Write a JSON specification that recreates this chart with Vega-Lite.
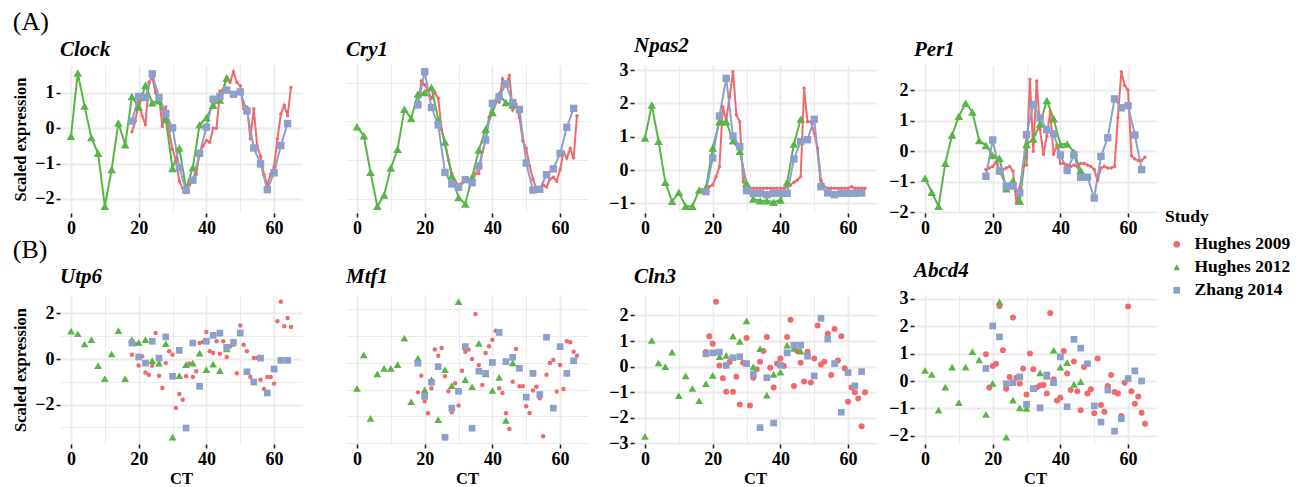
{
"$schema": "https://vega.github.io/schema/vega-lite/v6.json",
"background": "white",
"padding": {"left": 12, "top": 8, "right": 0, "bottom": 0},
"config": {
  "font": "Liberation Serif",
  "view": {"stroke": null},
  "axis": {"domain": false, "labelFont": "Liberation Serif", "labelFontSize": 18, "labelFontWeight": "bold", "labelColor": "#000", "titleFont": "Liberation Serif", "titleFontSize": 16.5, "titleFontWeight": "bold", "titleColor": "#000", "tickColor": "#222", "tickWidth": 1.6, "tickSize": 4, "labelPadding": 2, "gridColor": "#EBEBEB", "labelFlush": false, "labelOverlap": false, "titlePadding": 2},
  "title": {"font": "Liberation Serif", "fontSize": 21, "fontWeight": "bold", "fontStyle": "italic", "anchor": "start", "color": "#000", "offset": 5, "frame": "group"},
  "legend": {"titleFont": "Liberation Serif", "titleFontSize": 17.5, "titleFontWeight": "bold", "titleColor": "#000", "labelFont": "Liberation Serif", "labelFontSize": 17.5, "labelFontWeight": "bold", "labelColor": "#000", "symbolSize": 45, "rowPadding": 4, "titlePadding": 10, "labelOffset": 9, "symbolOffset": 3, "padding": 0}
},
"datasets": {"expr": [
{"gene":"Clock","study":"Hughes 2012","ct":0,"y":-0.23},{"gene":"Clock","study":"Hughes 2012","ct":2,"y":1.56},{"gene":"Clock","study":"Hughes 2012","ct":4,"y":0.63},{"gene":"Clock","study":"Hughes 2012","ct":6,"y":-0.26},{"gene":"Clock","study":"Hughes 2012","ct":8,"y":-0.71},{"gene":"Clock","study":"Hughes 2012","ct":10,"y":-2.21},{"gene":"Clock","study":"Hughes 2012","ct":12,"y":-1.17},{"gene":"Clock","study":"Hughes 2012","ct":14,"y":0.15},{"gene":"Clock","study":"Hughes 2012","ct":16,"y":-0.47},{"gene":"Clock","study":"Hughes 2012","ct":18,"y":0.9},{"gene":"Clock","study":"Hughes 2012","ct":20,"y":0.6},{"gene":"Clock","study":"Hughes 2012","ct":22,"y":1.22},{"gene":"Clock","study":"Hughes 2012","ct":24,"y":0.72},{"gene":"Clock","study":"Hughes 2012","ct":26,"y":0.78},{"gene":"Clock","study":"Hughes 2012","ct":28,"y":0.25},{"gene":"Clock","study":"Hughes 2012","ct":30,"y":-1.14},{"gene":"Clock","study":"Hughes 2012","ct":32,"y":-0.56},{"gene":"Clock","study":"Hughes 2012","ct":34,"y":-1.71},{"gene":"Clock","study":"Hughes 2012","ct":36,"y":-1.11},{"gene":"Clock","study":"Hughes 2012","ct":38,"y":0.1},{"gene":"Clock","study":"Hughes 2012","ct":40,"y":0.3},{"gene":"Clock","study":"Hughes 2012","ct":42,"y":0.65},{"gene":"Clock","study":"Hughes 2012","ct":44,"y":0.8},{"gene":"Clock","study":"Hughes 2012","ct":46,"y":1.42},
{"gene":"Clock","study":"Zhang 2014","ct":18,"y":0.2},{"gene":"Clock","study":"Zhang 2014","ct":20,"y":0.9},{"gene":"Clock","study":"Zhang 2014","ct":22,"y":0.87},{"gene":"Clock","study":"Zhang 2014","ct":24,"y":1.54},{"gene":"Clock","study":"Zhang 2014","ct":26,"y":0.87},{"gene":"Clock","study":"Zhang 2014","ct":28,"y":0.42},{"gene":"Clock","study":"Zhang 2014","ct":30,"y":0.01},{"gene":"Clock","study":"Zhang 2014","ct":32,"y":-1.11},{"gene":"Clock","study":"Zhang 2014","ct":34,"y":-1.76},{"gene":"Clock","study":"Zhang 2014","ct":36,"y":-1.47},{"gene":"Clock","study":"Zhang 2014","ct":38,"y":-0.71},{"gene":"Clock","study":"Zhang 2014","ct":40,"y":0.03},{"gene":"Clock","study":"Zhang 2014","ct":42,"y":0.82},{"gene":"Clock","study":"Zhang 2014","ct":44,"y":0.9},{"gene":"Clock","study":"Zhang 2014","ct":46,"y":1.08},{"gene":"Clock","study":"Zhang 2014","ct":48,"y":0.96},{"gene":"Clock","study":"Zhang 2014","ct":50,"y":1.03},{"gene":"Clock","study":"Zhang 2014","ct":52,"y":0.49},{"gene":"Clock","study":"Zhang 2014","ct":54,"y":-0.56},{"gene":"Clock","study":"Zhang 2014","ct":56,"y":-1.01},{"gene":"Clock","study":"Zhang 2014","ct":58,"y":-1.74},{"gene":"Clock","study":"Zhang 2014","ct":60,"y":-1.26},{"gene":"Clock","study":"Zhang 2014","ct":62,"y":-0.49},{"gene":"Clock","study":"Zhang 2014","ct":64,"y":0.13},
{"gene":"Clock","study":"Hughes 2009","ct":18,"y":-0.1},{"gene":"Clock","study":"Hughes 2009","ct":19,"y":0.2},{"gene":"Clock","study":"Hughes 2009","ct":20,"y":0.75},{"gene":"Clock","study":"Hughes 2009","ct":21,"y":0.35},{"gene":"Clock","study":"Hughes 2009","ct":22,"y":0.1},{"gene":"Clock","study":"Hughes 2009","ct":23,"y":1.3},{"gene":"Clock","study":"Hughes 2009","ct":24,"y":1.45},{"gene":"Clock","study":"Hughes 2009","ct":25,"y":1.0},{"gene":"Clock","study":"Hughes 2009","ct":26,"y":0.9},{"gene":"Clock","study":"Hughes 2009","ct":27,"y":0.05},{"gene":"Clock","study":"Hughes 2009","ct":28,"y":0.6},{"gene":"Clock","study":"Hughes 2009","ct":29,"y":-0.1},{"gene":"Clock","study":"Hughes 2009","ct":30,"y":-0.6},{"gene":"Clock","study":"Hughes 2009","ct":31,"y":-0.9},{"gene":"Clock","study":"Hughes 2009","ct":32,"y":-1.5},{"gene":"Clock","study":"Hughes 2009","ct":33,"y":-1.7},{"gene":"Clock","study":"Hughes 2009","ct":34,"y":-1.7},{"gene":"Clock","study":"Hughes 2009","ct":35,"y":-1.6},{"gene":"Clock","study":"Hughes 2009","ct":36,"y":-1.5},{"gene":"Clock","study":"Hughes 2009","ct":37,"y":-1.3},{"gene":"Clock","study":"Hughes 2009","ct":38,"y":-0.7},{"gene":"Clock","study":"Hughes 2009","ct":39,"y":-0.5},{"gene":"Clock","study":"Hughes 2009","ct":40,"y":-0.35},{"gene":"Clock","study":"Hughes 2009","ct":41,"y":-0.4},{"gene":"Clock","study":"Hughes 2009","ct":42,"y":0.0},{"gene":"Clock","study":"Hughes 2009","ct":43,"y":0.0},{"gene":"Clock","study":"Hughes 2009","ct":44,"y":1.05},{"gene":"Clock","study":"Hughes 2009","ct":45,"y":1.1},{"gene":"Clock","study":"Hughes 2009","ct":46,"y":1.45},{"gene":"Clock","study":"Hughes 2009","ct":47,"y":1.3},{"gene":"Clock","study":"Hughes 2009","ct":48,"y":1.6},{"gene":"Clock","study":"Hughes 2009","ct":49,"y":1.3},{"gene":"Clock","study":"Hughes 2009","ct":50,"y":1.2},{"gene":"Clock","study":"Hughes 2009","ct":51,"y":0.55},{"gene":"Clock","study":"Hughes 2009","ct":52,"y":0.6},{"gene":"Clock","study":"Hughes 2009","ct":53,"y":-0.3},{"gene":"Clock","study":"Hughes 2009","ct":54,"y":0.55},{"gene":"Clock","study":"Hughes 2009","ct":55,"y":-0.5},{"gene":"Clock","study":"Hughes 2009","ct":56,"y":-0.8},{"gene":"Clock","study":"Hughes 2009","ct":57,"y":-1.3},{"gene":"Clock","study":"Hughes 2009","ct":58,"y":-1.6},{"gene":"Clock","study":"Hughes 2009","ct":59,"y":-1.3},{"gene":"Clock","study":"Hughes 2009","ct":60,"y":-1.1},{"gene":"Clock","study":"Hughes 2009","ct":61,"y":-0.3},{"gene":"Clock","study":"Hughes 2009","ct":62,"y":0.4},{"gene":"Clock","study":"Hughes 2009","ct":63,"y":0.65},{"gene":"Clock","study":"Hughes 2009","ct":64,"y":0.35},{"gene":"Clock","study":"Hughes 2009","ct":65,"y":1.15},
{"gene":"Cry1","study":"Hughes 2012","ct":0,"y":0.36},{"gene":"Cry1","study":"Hughes 2012","ct":2,"y":0.13},{"gene":"Cry1","study":"Hughes 2012","ct":4,"y":-0.82},{"gene":"Cry1","study":"Hughes 2012","ct":6,"y":-1.7},{"gene":"Cry1","study":"Hughes 2012","ct":8,"y":-1.41},{"gene":"Cry1","study":"Hughes 2012","ct":10,"y":-0.71},{"gene":"Cry1","study":"Hughes 2012","ct":12,"y":-0.22},{"gene":"Cry1","study":"Hughes 2012","ct":14,"y":0.82},{"gene":"Cry1","study":"Hughes 2012","ct":16,"y":0.58},{"gene":"Cry1","study":"Hughes 2012","ct":18,"y":1.21},{"gene":"Cry1","study":"Hughes 2012","ct":20,"y":1.25},{"gene":"Cry1","study":"Hughes 2012","ct":22,"y":1.38},{"gene":"Cry1","study":"Hughes 2012","ct":24,"y":0.55},{"gene":"Cry1","study":"Hughes 2012","ct":26,"y":-0.03},{"gene":"Cry1","study":"Hughes 2012","ct":28,"y":-0.91},{"gene":"Cry1","study":"Hughes 2012","ct":30,"y":-1.47},{"gene":"Cry1","study":"Hughes 2012","ct":32,"y":-1.64},{"gene":"Cry1","study":"Hughes 2012","ct":34,"y":-0.95},{"gene":"Cry1","study":"Hughes 2012","ct":36,"y":-0.24},{"gene":"Cry1","study":"Hughes 2012","ct":38,"y":0.3},{"gene":"Cry1","study":"Hughes 2012","ct":40,"y":0.73},{"gene":"Cry1","study":"Hughes 2012","ct":42,"y":1.19},{"gene":"Cry1","study":"Hughes 2012","ct":44,"y":0.99},{"gene":"Cry1","study":"Hughes 2012","ct":46,"y":0.93},
{"gene":"Cry1","study":"Zhang 2014","ct":18,"y":0.93},{"gene":"Cry1","study":"Zhang 2014","ct":20,"y":1.79},{"gene":"Cry1","study":"Zhang 2014","ct":22,"y":0.86},{"gene":"Cry1","study":"Zhang 2014","ct":24,"y":0.41},{"gene":"Cry1","study":"Zhang 2014","ct":26,"y":-0.82},{"gene":"Cry1","study":"Zhang 2014","ct":28,"y":-1.12},{"gene":"Cry1","study":"Zhang 2014","ct":30,"y":-1.21},{"gene":"Cry1","study":"Zhang 2014","ct":32,"y":-1.01},{"gene":"Cry1","study":"Zhang 2014","ct":34,"y":-1.09},{"gene":"Cry1","study":"Zhang 2014","ct":36,"y":-0.65},{"gene":"Cry1","study":"Zhang 2014","ct":38,"y":0.02},{"gene":"Cry1","study":"Zhang 2014","ct":40,"y":0.97},{"gene":"Cry1","study":"Zhang 2014","ct":42,"y":1.14},{"gene":"Cry1","study":"Zhang 2014","ct":44,"y":1.47},{"gene":"Cry1","study":"Zhang 2014","ct":46,"y":0.99},{"gene":"Cry1","study":"Zhang 2014","ct":48,"y":0.81},{"gene":"Cry1","study":"Zhang 2014","ct":50,"y":-0.58},{"gene":"Cry1","study":"Zhang 2014","ct":52,"y":-1.28},{"gene":"Cry1","study":"Zhang 2014","ct":54,"y":-1.26},{"gene":"Cry1","study":"Zhang 2014","ct":56,"y":-0.88},{"gene":"Cry1","study":"Zhang 2014","ct":58,"y":-0.73},{"gene":"Cry1","study":"Zhang 2014","ct":60,"y":-0.33},{"gene":"Cry1","study":"Zhang 2014","ct":62,"y":0.35},{"gene":"Cry1","study":"Zhang 2014","ct":64,"y":0.84},
{"gene":"Cry1","study":"Hughes 2009","ct":18,"y":0.9},{"gene":"Cry1","study":"Hughes 2009","ct":19,"y":1.55},{"gene":"Cry1","study":"Hughes 2009","ct":20,"y":1.45},{"gene":"Cry1","study":"Hughes 2009","ct":21,"y":1.3},{"gene":"Cry1","study":"Hughes 2009","ct":22,"y":1.1},{"gene":"Cry1","study":"Hughes 2009","ct":23,"y":1.25},{"gene":"Cry1","study":"Hughes 2009","ct":24,"y":1.1},{"gene":"Cry1","study":"Hughes 2009","ct":25,"y":0.3},{"gene":"Cry1","study":"Hughes 2009","ct":26,"y":-0.1},{"gene":"Cry1","study":"Hughes 2009","ct":27,"y":-0.5},{"gene":"Cry1","study":"Hughes 2009","ct":28,"y":-0.85},{"gene":"Cry1","study":"Hughes 2009","ct":29,"y":-1.05},{"gene":"Cry1","study":"Hughes 2009","ct":30,"y":-1.15},{"gene":"Cry1","study":"Hughes 2009","ct":31,"y":-1.1},{"gene":"Cry1","study":"Hughes 2009","ct":32,"y":-1.0},{"gene":"Cry1","study":"Hughes 2009","ct":33,"y":-1.05},{"gene":"Cry1","study":"Hughes 2009","ct":34,"y":-1.0},{"gene":"Cry1","study":"Hughes 2009","ct":35,"y":-0.85},{"gene":"Cry1","study":"Hughes 2009","ct":36,"y":-0.85},{"gene":"Cry1","study":"Hughes 2009","ct":37,"y":-0.3},{"gene":"Cry1","study":"Hughes 2009","ct":38,"y":0.0},{"gene":"Cry1","study":"Hughes 2009","ct":39,"y":0.6},{"gene":"Cry1","study":"Hughes 2009","ct":40,"y":0.9},{"gene":"Cry1","study":"Hughes 2009","ct":41,"y":1.05},{"gene":"Cry1","study":"Hughes 2009","ct":42,"y":1.0},{"gene":"Cry1","study":"Hughes 2009","ct":43,"y":1.6},{"gene":"Cry1","study":"Hughes 2009","ct":44,"y":1.45},{"gene":"Cry1","study":"Hughes 2009","ct":45,"y":1.7},{"gene":"Cry1","study":"Hughes 2009","ct":46,"y":0.8},{"gene":"Cry1","study":"Hughes 2009","ct":47,"y":0.95},{"gene":"Cry1","study":"Hughes 2009","ct":48,"y":0.6},{"gene":"Cry1","study":"Hughes 2009","ct":49,"y":0.0},{"gene":"Cry1","study":"Hughes 2009","ct":50,"y":-0.2},{"gene":"Cry1","study":"Hughes 2009","ct":51,"y":-0.65},{"gene":"Cry1","study":"Hughes 2009","ct":52,"y":-1.0},{"gene":"Cry1","study":"Hughes 2009","ct":53,"y":-1.25},{"gene":"Cry1","study":"Hughes 2009","ct":54,"y":-1.3},{"gene":"Cry1","study":"Hughes 2009","ct":55,"y":-1.15},{"gene":"Cry1","study":"Hughes 2009","ct":56,"y":-1.2},{"gene":"Cry1","study":"Hughes 2009","ct":57,"y":-1.0},{"gene":"Cry1","study":"Hughes 2009","ct":58,"y":-0.95},{"gene":"Cry1","study":"Hughes 2009","ct":59,"y":-1.05},{"gene":"Cry1","study":"Hughes 2009","ct":60,"y":-0.75},{"gene":"Cry1","study":"Hughes 2009","ct":61,"y":-0.3},{"gene":"Cry1","study":"Hughes 2009","ct":62,"y":-0.45},{"gene":"Cry1","study":"Hughes 2009","ct":63,"y":-0.2},{"gene":"Cry1","study":"Hughes 2009","ct":64,"y":-0.45},{"gene":"Cry1","study":"Hughes 2009","ct":65,"y":0.65},
{"gene":"Npas2","study":"Hughes 2012","ct":0,"y":0.96},{"gene":"Npas2","study":"Hughes 2012","ct":2,"y":1.95},{"gene":"Npas2","study":"Hughes 2012","ct":4,"y":0.86},{"gene":"Npas2","study":"Hughes 2012","ct":6,"y":-0.37},{"gene":"Npas2","study":"Hughes 2012","ct":8,"y":-0.94},{"gene":"Npas2","study":"Hughes 2012","ct":10,"y":-0.67},{"gene":"Npas2","study":"Hughes 2012","ct":12,"y":-1.09},{"gene":"Npas2","study":"Hughes 2012","ct":14,"y":-1.09},{"gene":"Npas2","study":"Hughes 2012","ct":16,"y":-0.6},{"gene":"Npas2","study":"Hughes 2012","ct":18,"y":-0.55},{"gene":"Npas2","study":"Hughes 2012","ct":20,"y":0.66},{"gene":"Npas2","study":"Hughes 2012","ct":22,"y":1.45},{"gene":"Npas2","study":"Hughes 2012","ct":24,"y":1.45},{"gene":"Npas2","study":"Hughes 2012","ct":26,"y":0.88},{"gene":"Npas2","study":"Hughes 2012","ct":28,"y":0.56},{"gene":"Npas2","study":"Hughes 2012","ct":30,"y":-0.4},{"gene":"Npas2","study":"Hughes 2012","ct":32,"y":-0.87},{"gene":"Npas2","study":"Hughes 2012","ct":34,"y":-0.92},{"gene":"Npas2","study":"Hughes 2012","ct":36,"y":-0.92},{"gene":"Npas2","study":"Hughes 2012","ct":38,"y":-0.97},{"gene":"Npas2","study":"Hughes 2012","ct":40,"y":-0.9},{"gene":"Npas2","study":"Hughes 2012","ct":42,"y":-0.37},{"gene":"Npas2","study":"Hughes 2012","ct":44,"y":0.78},{"gene":"Npas2","study":"Hughes 2012","ct":46,"y":1.52},
{"gene":"Npas2","study":"Zhang 2014","ct":18,"y":-0.65},{"gene":"Npas2","study":"Zhang 2014","ct":20,"y":0.36},{"gene":"Npas2","study":"Zhang 2014","ct":22,"y":1.62},{"gene":"Npas2","study":"Zhang 2014","ct":24,"y":2.75},{"gene":"Npas2","study":"Zhang 2014","ct":26,"y":1.02},{"gene":"Npas2","study":"Zhang 2014","ct":28,"y":0.7},{"gene":"Npas2","study":"Zhang 2014","ct":30,"y":-0.62},{"gene":"Npas2","study":"Zhang 2014","ct":32,"y":-0.7},{"gene":"Npas2","study":"Zhang 2014","ct":34,"y":-0.7},{"gene":"Npas2","study":"Zhang 2014","ct":36,"y":-0.74},{"gene":"Npas2","study":"Zhang 2014","ct":38,"y":-0.7},{"gene":"Npas2","study":"Zhang 2014","ct":40,"y":-0.7},{"gene":"Npas2","study":"Zhang 2014","ct":42,"y":-0.7},{"gene":"Npas2","study":"Zhang 2014","ct":44,"y":0.33},{"gene":"Npas2","study":"Zhang 2014","ct":46,"y":0.85},{"gene":"Npas2","study":"Zhang 2014","ct":48,"y":0.91},{"gene":"Npas2","study":"Zhang 2014","ct":50,"y":1.52},{"gene":"Npas2","study":"Zhang 2014","ct":52,"y":-0.5},{"gene":"Npas2","study":"Zhang 2014","ct":54,"y":-0.69},{"gene":"Npas2","study":"Zhang 2014","ct":56,"y":-0.74},{"gene":"Npas2","study":"Zhang 2014","ct":58,"y":-0.7},{"gene":"Npas2","study":"Zhang 2014","ct":60,"y":-0.7},{"gene":"Npas2","study":"Zhang 2014","ct":62,"y":-0.7},{"gene":"Npas2","study":"Zhang 2014","ct":64,"y":-0.69},
{"gene":"Npas2","study":"Hughes 2009","ct":18,"y":-0.5},{"gene":"Npas2","study":"Hughes 2009","ct":19,"y":-0.5},{"gene":"Npas2","study":"Hughes 2009","ct":20,"y":-0.45},{"gene":"Npas2","study":"Hughes 2009","ct":21,"y":-0.2},{"gene":"Npas2","study":"Hughes 2009","ct":22,"y":0.1},{"gene":"Npas2","study":"Hughes 2009","ct":23,"y":1.9},{"gene":"Npas2","study":"Hughes 2009","ct":24,"y":1.5},{"gene":"Npas2","study":"Hughes 2009","ct":25,"y":2.2},{"gene":"Npas2","study":"Hughes 2009","ct":26,"y":2.95},{"gene":"Npas2","study":"Hughes 2009","ct":27,"y":1.65},{"gene":"Npas2","study":"Hughes 2009","ct":28,"y":1.45},{"gene":"Npas2","study":"Hughes 2009","ct":29,"y":-0.35},{"gene":"Npas2","study":"Hughes 2009","ct":30,"y":-0.5},{"gene":"Npas2","study":"Hughes 2009","ct":31,"y":-0.55},{"gene":"Npas2","study":"Hughes 2009","ct":32,"y":-0.55},{"gene":"Npas2","study":"Hughes 2009","ct":33,"y":-0.55},{"gene":"Npas2","study":"Hughes 2009","ct":34,"y":-0.55},{"gene":"Npas2","study":"Hughes 2009","ct":35,"y":-0.55},{"gene":"Npas2","study":"Hughes 2009","ct":36,"y":-0.55},{"gene":"Npas2","study":"Hughes 2009","ct":37,"y":-0.55},{"gene":"Npas2","study":"Hughes 2009","ct":38,"y":-0.55},{"gene":"Npas2","study":"Hughes 2009","ct":39,"y":-0.55},{"gene":"Npas2","study":"Hughes 2009","ct":40,"y":-0.55},{"gene":"Npas2","study":"Hughes 2009","ct":41,"y":-0.55},{"gene":"Npas2","study":"Hughes 2009","ct":42,"y":-0.5},{"gene":"Npas2","study":"Hughes 2009","ct":43,"y":-0.45},{"gene":"Npas2","study":"Hughes 2009","ct":44,"y":-0.37},{"gene":"Npas2","study":"Hughes 2009","ct":45,"y":-0.3},{"gene":"Npas2","study":"Hughes 2009","ct":46,"y":-0.2},{"gene":"Npas2","study":"Hughes 2009","ct":47,"y":2.45},{"gene":"Npas2","study":"Hughes 2009","ct":48,"y":1.45},{"gene":"Npas2","study":"Hughes 2009","ct":49,"y":1.45},{"gene":"Npas2","study":"Hughes 2009","ct":50,"y":1.1},{"gene":"Npas2","study":"Hughes 2009","ct":51,"y":0.65},{"gene":"Npas2","study":"Hughes 2009","ct":52,"y":-0.3},{"gene":"Npas2","study":"Hughes 2009","ct":53,"y":-0.5},{"gene":"Npas2","study":"Hughes 2009","ct":54,"y":-0.55},{"gene":"Npas2","study":"Hughes 2009","ct":55,"y":-0.55},{"gene":"Npas2","study":"Hughes 2009","ct":56,"y":-0.55},{"gene":"Npas2","study":"Hughes 2009","ct":57,"y":-0.55},{"gene":"Npas2","study":"Hughes 2009","ct":58,"y":-0.55},{"gene":"Npas2","study":"Hughes 2009","ct":59,"y":-0.55},{"gene":"Npas2","study":"Hughes 2009","ct":60,"y":-0.55},{"gene":"Npas2","study":"Hughes 2009","ct":61,"y":-0.5},{"gene":"Npas2","study":"Hughes 2009","ct":62,"y":-0.55},{"gene":"Npas2","study":"Hughes 2009","ct":63,"y":-0.55},{"gene":"Npas2","study":"Hughes 2009","ct":64,"y":-0.55},{"gene":"Npas2","study":"Hughes 2009","ct":65,"y":-0.55},
{"gene":"Per1","study":"Hughes 2012","ct":0,"y":-0.88},{"gene":"Per1","study":"Hughes 2012","ct":2,"y":-1.34},{"gene":"Per1","study":"Hughes 2012","ct":4,"y":-1.8},{"gene":"Per1","study":"Hughes 2012","ct":6,"y":-0.39},{"gene":"Per1","study":"Hughes 2012","ct":8,"y":0.53},{"gene":"Per1","study":"Hughes 2012","ct":10,"y":1.14},{"gene":"Per1","study":"Hughes 2012","ct":12,"y":1.57},{"gene":"Per1","study":"Hughes 2012","ct":14,"y":1.28},{"gene":"Per1","study":"Hughes 2012","ct":16,"y":0.35},{"gene":"Per1","study":"Hughes 2012","ct":18,"y":0.19},{"gene":"Per1","study":"Hughes 2012","ct":20,"y":-0.14},{"gene":"Per1","study":"Hughes 2012","ct":22,"y":-0.23},{"gene":"Per1","study":"Hughes 2012","ct":24,"y":-1.23},{"gene":"Per1","study":"Hughes 2012","ct":26,"y":-0.96},{"gene":"Per1","study":"Hughes 2012","ct":28,"y":-1.63},{"gene":"Per1","study":"Hughes 2012","ct":30,"y":0.22},{"gene":"Per1","study":"Hughes 2012","ct":32,"y":0.4},{"gene":"Per1","study":"Hughes 2012","ct":34,"y":0.89},{"gene":"Per1","study":"Hughes 2012","ct":36,"y":1.66},{"gene":"Per1","study":"Hughes 2012","ct":38,"y":1.06},{"gene":"Per1","study":"Hughes 2012","ct":40,"y":0.22},{"gene":"Per1","study":"Hughes 2012","ct":42,"y":0.24},{"gene":"Per1","study":"Hughes 2012","ct":44,"y":-0.03},{"gene":"Per1","study":"Hughes 2012","ct":46,"y":-0.63},
{"gene":"Per1","study":"Zhang 2014","ct":18,"y":-0.82},{"gene":"Per1","study":"Zhang 2014","ct":20,"y":0.37},{"gene":"Per1","study":"Zhang 2014","ct":22,"y":-0.65},{"gene":"Per1","study":"Zhang 2014","ct":24,"y":-1.14},{"gene":"Per1","study":"Zhang 2014","ct":26,"y":-1.14},{"gene":"Per1","study":"Zhang 2014","ct":28,"y":-1.36},{"gene":"Per1","study":"Zhang 2014","ct":30,"y":0.54},{"gene":"Per1","study":"Zhang 2014","ct":32,"y":1.53},{"gene":"Per1","study":"Zhang 2014","ct":34,"y":1.09},{"gene":"Per1","study":"Zhang 2014","ct":36,"y":0.7},{"gene":"Per1","study":"Zhang 2014","ct":38,"y":0.57},{"gene":"Per1","study":"Zhang 2014","ct":40,"y":-0.12},{"gene":"Per1","study":"Zhang 2014","ct":42,"y":-0.63},{"gene":"Per1","study":"Zhang 2014","ct":44,"y":-0.12},{"gene":"Per1","study":"Zhang 2014","ct":46,"y":-0.85},{"gene":"Per1","study":"Zhang 2014","ct":48,"y":-0.85},{"gene":"Per1","study":"Zhang 2014","ct":50,"y":-1.53},{"gene":"Per1","study":"Zhang 2014","ct":52,"y":-0.17},{"gene":"Per1","study":"Zhang 2014","ct":54,"y":0.44},{"gene":"Per1","study":"Zhang 2014","ct":56,"y":1.71},{"gene":"Per1","study":"Zhang 2014","ct":58,"y":1.42},{"gene":"Per1","study":"Zhang 2014","ct":60,"y":1.49},{"gene":"Per1","study":"Zhang 2014","ct":62,"y":0.53},{"gene":"Per1","study":"Zhang 2014","ct":64,"y":-0.6},
{"gene":"Per1","study":"Hughes 2009","ct":18,"y":-0.6},{"gene":"Per1","study":"Hughes 2009","ct":19,"y":-0.55},{"gene":"Per1","study":"Hughes 2009","ct":20,"y":-0.5},{"gene":"Per1","study":"Hughes 2009","ct":21,"y":-0.35},{"gene":"Per1","study":"Hughes 2009","ct":22,"y":-0.7},{"gene":"Per1","study":"Hughes 2009","ct":23,"y":-0.6},{"gene":"Per1","study":"Hughes 2009","ct":24,"y":-0.55},{"gene":"Per1","study":"Hughes 2009","ct":25,"y":-0.5},{"gene":"Per1","study":"Hughes 2009","ct":26,"y":-0.65},{"gene":"Per1","study":"Hughes 2009","ct":27,"y":-1.7},{"gene":"Per1","study":"Hughes 2009","ct":28,"y":-1.2},{"gene":"Per1","study":"Hughes 2009","ct":29,"y":-0.5},{"gene":"Per1","study":"Hughes 2009","ct":30,"y":-0.45},{"gene":"Per1","study":"Hughes 2009","ct":31,"y":2.35},{"gene":"Per1","study":"Hughes 2009","ct":32,"y":0.0},{"gene":"Per1","study":"Hughes 2009","ct":33,"y":2.3},{"gene":"Per1","study":"Hughes 2009","ct":34,"y":0.7},{"gene":"Per1","study":"Hughes 2009","ct":35,"y":-0.1},{"gene":"Per1","study":"Hughes 2009","ct":36,"y":0.5},{"gene":"Per1","study":"Hughes 2009","ct":37,"y":1.3},{"gene":"Per1","study":"Hughes 2009","ct":38,"y":-0.1},{"gene":"Per1","study":"Hughes 2009","ct":39,"y":0.2},{"gene":"Per1","study":"Hughes 2009","ct":40,"y":-0.4},{"gene":"Per1","study":"Hughes 2009","ct":41,"y":-0.4},{"gene":"Per1","study":"Hughes 2009","ct":42,"y":-0.45},{"gene":"Per1","study":"Hughes 2009","ct":43,"y":-0.5},{"gene":"Per1","study":"Hughes 2009","ct":44,"y":-0.45},{"gene":"Per1","study":"Hughes 2009","ct":45,"y":-0.5},{"gene":"Per1","study":"Hughes 2009","ct":46,"y":-0.4},{"gene":"Per1","study":"Hughes 2009","ct":47,"y":-0.4},{"gene":"Per1","study":"Hughes 2009","ct":48,"y":-0.45},{"gene":"Per1","study":"Hughes 2009","ct":49,"y":-0.5},{"gene":"Per1","study":"Hughes 2009","ct":50,"y":-0.6},{"gene":"Per1","study":"Hughes 2009","ct":51,"y":-0.95},{"gene":"Per1","study":"Hughes 2009","ct":52,"y":-0.55},{"gene":"Per1","study":"Hughes 2009","ct":53,"y":-0.5},{"gene":"Per1","study":"Hughes 2009","ct":54,"y":-0.55},{"gene":"Per1","study":"Hughes 2009","ct":55,"y":-0.55},{"gene":"Per1","study":"Hughes 2009","ct":56,"y":-0.5},{"gene":"Per1","study":"Hughes 2009","ct":57,"y":1.1},{"gene":"Per1","study":"Hughes 2009","ct":58,"y":2.6},{"gene":"Per1","study":"Hughes 2009","ct":59,"y":2.15},{"gene":"Per1","study":"Hughes 2009","ct":60,"y":2.0},{"gene":"Per1","study":"Hughes 2009","ct":61,"y":-0.15},{"gene":"Per1","study":"Hughes 2009","ct":62,"y":-0.25},{"gene":"Per1","study":"Hughes 2009","ct":63,"y":-0.3},{"gene":"Per1","study":"Hughes 2009","ct":64,"y":-0.3},{"gene":"Per1","study":"Hughes 2009","ct":65,"y":-0.2},
{"gene":"Utp6","study":"Hughes 2012","ct":0,"y":1.22},{"gene":"Utp6","study":"Hughes 2012","ct":2,"y":1.11},{"gene":"Utp6","study":"Hughes 2012","ct":4,"y":0.66},{"gene":"Utp6","study":"Hughes 2012","ct":6,"y":0.85},{"gene":"Utp6","study":"Hughes 2012","ct":8,"y":-0.29},{"gene":"Utp6","study":"Hughes 2012","ct":10,"y":-0.86},{"gene":"Utp6","study":"Hughes 2012","ct":12,"y":0.22},{"gene":"Utp6","study":"Hughes 2012","ct":14,"y":1.25},{"gene":"Utp6","study":"Hughes 2012","ct":16,"y":-0.86},{"gene":"Utp6","study":"Hughes 2012","ct":18,"y":0.85},{"gene":"Utp6","study":"Hughes 2012","ct":20,"y":0.73},{"gene":"Utp6","study":"Hughes 2012","ct":22,"y":0.85},{"gene":"Utp6","study":"Hughes 2012","ct":24,"y":-0.07},{"gene":"Utp6","study":"Hughes 2012","ct":26,"y":-0.18},{"gene":"Utp6","study":"Hughes 2012","ct":28,"y":0.67},{"gene":"Utp6","study":"Hughes 2012","ct":30,"y":-3.43},{"gene":"Utp6","study":"Hughes 2012","ct":32,"y":-0.73},{"gene":"Utp6","study":"Hughes 2012","ct":34,"y":-0.25},{"gene":"Utp6","study":"Hughes 2012","ct":36,"y":-0.18},{"gene":"Utp6","study":"Hughes 2012","ct":38,"y":0.26},{"gene":"Utp6","study":"Hughes 2012","ct":40,"y":-0.47},{"gene":"Utp6","study":"Hughes 2012","ct":42,"y":-0.22},{"gene":"Utp6","study":"Hughes 2012","ct":44,"y":-0.51},{"gene":"Utp6","study":"Hughes 2012","ct":46,"y":0.44},
{"gene":"Utp6","study":"Zhang 2014","ct":18,"y":0.7},{"gene":"Utp6","study":"Zhang 2014","ct":20,"y":0.09},{"gene":"Utp6","study":"Zhang 2014","ct":22,"y":-0.18},{"gene":"Utp6","study":"Zhang 2014","ct":24,"y":0.78},{"gene":"Utp6","study":"Zhang 2014","ct":26,"y":0.04},{"gene":"Utp6","study":"Zhang 2014","ct":28,"y":0.97},{"gene":"Utp6","study":"Zhang 2014","ct":30,"y":-0.76},{"gene":"Utp6","study":"Zhang 2014","ct":32,"y":0.38},{"gene":"Utp6","study":"Zhang 2014","ct":34,"y":-3.03},{"gene":"Utp6","study":"Zhang 2014","ct":36,"y":0.7},{"gene":"Utp6","study":"Zhang 2014","ct":38,"y":-1.2},{"gene":"Utp6","study":"Zhang 2014","ct":40,"y":0.78},{"gene":"Utp6","study":"Zhang 2014","ct":42,"y":1.04},{"gene":"Utp6","study":"Zhang 2014","ct":44,"y":1.14},{"gene":"Utp6","study":"Zhang 2014","ct":46,"y":0.51},{"gene":"Utp6","study":"Zhang 2014","ct":48,"y":0.73},{"gene":"Utp6","study":"Zhang 2014","ct":50,"y":1.14},{"gene":"Utp6","study":"Zhang 2014","ct":52,"y":-0.56},{"gene":"Utp6","study":"Zhang 2014","ct":54,"y":-1.01},{"gene":"Utp6","study":"Zhang 2014","ct":56,"y":0.04},{"gene":"Utp6","study":"Zhang 2014","ct":58,"y":-1.49},{"gene":"Utp6","study":"Zhang 2014","ct":60,"y":-0.44},{"gene":"Utp6","study":"Zhang 2014","ct":62,"y":-0.06},{"gene":"Utp6","study":"Zhang 2014","ct":64,"y":-0.06},
{"gene":"Utp6","study":"Hughes 2009","ct":18,"y":0.19},{"gene":"Utp6","study":"Hughes 2009","ct":19,"y":0.65},{"gene":"Utp6","study":"Hughes 2009","ct":20,"y":-0.28},{"gene":"Utp6","study":"Hughes 2009","ct":21,"y":0.12},{"gene":"Utp6","study":"Hughes 2009","ct":22,"y":-0.59},{"gene":"Utp6","study":"Hughes 2009","ct":23,"y":-0.69},{"gene":"Utp6","study":"Hughes 2009","ct":24,"y":-0.29},{"gene":"Utp6","study":"Hughes 2009","ct":25,"y":1.14},{"gene":"Utp6","study":"Hughes 2009","ct":26,"y":-0.73},{"gene":"Utp6","study":"Hughes 2009","ct":27,"y":-1.27},{"gene":"Utp6","study":"Hughes 2009","ct":28,"y":-0.18},{"gene":"Utp6","study":"Hughes 2009","ct":29,"y":0.34},{"gene":"Utp6","study":"Hughes 2009","ct":30,"y":0.19},{"gene":"Utp6","study":"Hughes 2009","ct":31,"y":-2.15},{"gene":"Utp6","study":"Hughes 2009","ct":32,"y":-1.54},{"gene":"Utp6","study":"Hughes 2009","ct":33,"y":-1.79},{"gene":"Utp6","study":"Hughes 2009","ct":34,"y":-0.76},{"gene":"Utp6","study":"Hughes 2009","ct":35,"y":-0.2},{"gene":"Utp6","study":"Hughes 2009","ct":36,"y":-0.79},{"gene":"Utp6","study":"Hughes 2009","ct":37,"y":-0.54},{"gene":"Utp6","study":"Hughes 2009","ct":38,"y":0.7},{"gene":"Utp6","study":"Hughes 2009","ct":39,"y":0.75},{"gene":"Utp6","study":"Hughes 2009","ct":40,"y":1.19},{"gene":"Utp6","study":"Hughes 2009","ct":41,"y":0.34},{"gene":"Utp6","study":"Hughes 2009","ct":42,"y":0.26},{"gene":"Utp6","study":"Hughes 2009","ct":43,"y":0.78},{"gene":"Utp6","study":"Hughes 2009","ct":44,"y":0.23},{"gene":"Utp6","study":"Hughes 2009","ct":45,"y":0.78},{"gene":"Utp6","study":"Hughes 2009","ct":46,"y":0.09},{"gene":"Utp6","study":"Hughes 2009","ct":47,"y":0.56},{"gene":"Utp6","study":"Hughes 2009","ct":48,"y":0.63},{"gene":"Utp6","study":"Hughes 2009","ct":49,"y":-0.62},{"gene":"Utp6","study":"Hughes 2009","ct":50,"y":1.47},{"gene":"Utp6","study":"Hughes 2009","ct":51,"y":0.63},{"gene":"Utp6","study":"Hughes 2009","ct":52,"y":0.34},{"gene":"Utp6","study":"Hughes 2009","ct":53,"y":-0.79},{"gene":"Utp6","study":"Hughes 2009","ct":54,"y":0.04},{"gene":"Utp6","study":"Hughes 2009","ct":55,"y":0.05},{"gene":"Utp6","study":"Hughes 2009","ct":56,"y":-0.91},{"gene":"Utp6","study":"Hughes 2009","ct":57,"y":-1.32},{"gene":"Utp6","study":"Hughes 2009","ct":58,"y":-0.79},{"gene":"Utp6","study":"Hughes 2009","ct":59,"y":-0.79},{"gene":"Utp6","study":"Hughes 2009","ct":60,"y":-1.08},{"gene":"Utp6","study":"Hughes 2009","ct":61,"y":1.66},{"gene":"Utp6","study":"Hughes 2009","ct":62,"y":2.51},{"gene":"Utp6","study":"Hughes 2009","ct":63,"y":1.44},{"gene":"Utp6","study":"Hughes 2009","ct":64,"y":1.8},{"gene":"Utp6","study":"Hughes 2009","ct":65,"y":1.41},
{"gene":"Mtf1","study":"Hughes 2012","ct":0,"y":-0.45},{"gene":"Mtf1","study":"Hughes 2012","ct":2,"y":0.8},{"gene":"Mtf1","study":"Hughes 2012","ct":4,"y":-1.57},{"gene":"Mtf1","study":"Hughes 2012","ct":6,"y":0.09},{"gene":"Mtf1","study":"Hughes 2012","ct":8,"y":0.3},{"gene":"Mtf1","study":"Hughes 2012","ct":10,"y":0.3},{"gene":"Mtf1","study":"Hughes 2012","ct":12,"y":0.44},{"gene":"Mtf1","study":"Hughes 2012","ct":14,"y":1.43},{"gene":"Mtf1","study":"Hughes 2012","ct":16,"y":-0.95},{"gene":"Mtf1","study":"Hughes 2012","ct":18,"y":0.68},{"gene":"Mtf1","study":"Hughes 2012","ct":20,"y":-0.51},{"gene":"Mtf1","study":"Hughes 2012","ct":22,"y":-0.12},{"gene":"Mtf1","study":"Hughes 2012","ct":24,"y":-1.62},{"gene":"Mtf1","study":"Hughes 2012","ct":26,"y":0.25},{"gene":"Mtf1","study":"Hughes 2012","ct":28,"y":-0.35},{"gene":"Mtf1","study":"Hughes 2012","ct":30,"y":2.79},{"gene":"Mtf1","study":"Hughes 2012","ct":32,"y":-0.12},{"gene":"Mtf1","study":"Hughes 2012","ct":34,"y":-0.39},{"gene":"Mtf1","study":"Hughes 2012","ct":36,"y":1.23},{"gene":"Mtf1","study":"Hughes 2012","ct":38,"y":0.09},{"gene":"Mtf1","study":"Hughes 2012","ct":40,"y":-0.53},{"gene":"Mtf1","study":"Hughes 2012","ct":42,"y":-0.04},{"gene":"Mtf1","study":"Hughes 2012","ct":44,"y":-1.65},{"gene":"Mtf1","study":"Hughes 2012","ct":46,"y":0.5},
{"gene":"Mtf1","study":"Zhang 2014","ct":18,"y":0.49},{"gene":"Mtf1","study":"Zhang 2014","ct":20,"y":-0.75},{"gene":"Mtf1","study":"Zhang 2014","ct":22,"y":-0.22},{"gene":"Mtf1","study":"Zhang 2014","ct":24,"y":0.36},{"gene":"Mtf1","study":"Zhang 2014","ct":26,"y":-2.28},{"gene":"Mtf1","study":"Zhang 2014","ct":28,"y":-1.19},{"gene":"Mtf1","study":"Zhang 2014","ct":30,"y":-0.56},{"gene":"Mtf1","study":"Zhang 2014","ct":32,"y":1.11},{"gene":"Mtf1","study":"Zhang 2014","ct":34,"y":-1.94},{"gene":"Mtf1","study":"Zhang 2014","ct":36,"y":0.19},{"gene":"Mtf1","study":"Zhang 2014","ct":38,"y":0.11},{"gene":"Mtf1","study":"Zhang 2014","ct":40,"y":0.52},{"gene":"Mtf1","study":"Zhang 2014","ct":42,"y":1.64},{"gene":"Mtf1","study":"Zhang 2014","ct":44,"y":0.55},{"gene":"Mtf1","study":"Zhang 2014","ct":46,"y":0.71},{"gene":"Mtf1","study":"Zhang 2014","ct":48,"y":0.3},{"gene":"Mtf1","study":"Zhang 2014","ct":50,"y":-0.78},{"gene":"Mtf1","study":"Zhang 2014","ct":52,"y":0.11},{"gene":"Mtf1","study":"Zhang 2014","ct":54,"y":-0.68},{"gene":"Mtf1","study":"Zhang 2014","ct":56,"y":1.46},{"gene":"Mtf1","study":"Zhang 2014","ct":58,"y":-1.19},{"gene":"Mtf1","study":"Zhang 2014","ct":60,"y":1.11},{"gene":"Mtf1","study":"Zhang 2014","ct":62,"y":0.11},{"gene":"Mtf1","study":"Zhang 2014","ct":64,"y":0.58},
{"gene":"Mtf1","study":"Hughes 2009","ct":18,"y":-0.6},{"gene":"Mtf1","study":"Hughes 2009","ct":19,"y":0.02},{"gene":"Mtf1","study":"Hughes 2009","ct":20,"y":-0.93},{"gene":"Mtf1","study":"Hughes 2009","ct":21,"y":-1.38},{"gene":"Mtf1","study":"Hughes 2009","ct":22,"y":-0.45},{"gene":"Mtf1","study":"Hughes 2009","ct":23,"y":1.0},{"gene":"Mtf1","study":"Hughes 2009","ct":24,"y":0.77},{"gene":"Mtf1","study":"Hughes 2009","ct":25,"y":1.06},{"gene":"Mtf1","study":"Hughes 2009","ct":26,"y":0.0},{"gene":"Mtf1","study":"Hughes 2009","ct":27,"y":-0.56},{"gene":"Mtf1","study":"Hughes 2009","ct":28,"y":-1.34},{"gene":"Mtf1","study":"Hughes 2009","ct":29,"y":-0.26},{"gene":"Mtf1","study":"Hughes 2009","ct":30,"y":-1.09},{"gene":"Mtf1","study":"Hughes 2009","ct":31,"y":0.21},{"gene":"Mtf1","study":"Hughes 2009","ct":32,"y":0.92},{"gene":"Mtf1","study":"Hughes 2009","ct":33,"y":1.0},{"gene":"Mtf1","study":"Hughes 2009","ct":34,"y":0.65},{"gene":"Mtf1","study":"Hughes 2009","ct":35,"y":2.33},{"gene":"Mtf1","study":"Hughes 2009","ct":36,"y":0.42},{"gene":"Mtf1","study":"Hughes 2009","ct":37,"y":-0.32},{"gene":"Mtf1","study":"Hughes 2009","ct":38,"y":0.87},{"gene":"Mtf1","study":"Hughes 2009","ct":39,"y":1.12},{"gene":"Mtf1","study":"Hughes 2009","ct":40,"y":1.37},{"gene":"Mtf1","study":"Hughes 2009","ct":41,"y":1.7},{"gene":"Mtf1","study":"Hughes 2009","ct":42,"y":-0.45},{"gene":"Mtf1","study":"Hughes 2009","ct":43,"y":-0.62},{"gene":"Mtf1","study":"Hughes 2009","ct":44,"y":-1.38},{"gene":"Mtf1","study":"Hughes 2009","ct":45,"y":-1.97},{"gene":"Mtf1","study":"Hughes 2009","ct":46,"y":-0.2},{"gene":"Mtf1","study":"Hughes 2009","ct":47,"y":1.02},{"gene":"Mtf1","study":"Hughes 2009","ct":48,"y":-0.37},{"gene":"Mtf1","study":"Hughes 2009","ct":49,"y":-0.37},{"gene":"Mtf1","study":"Hughes 2009","ct":50,"y":-1.12},{"gene":"Mtf1","study":"Hughes 2009","ct":51,"y":-1.37},{"gene":"Mtf1","study":"Hughes 2009","ct":52,"y":-0.53},{"gene":"Mtf1","study":"Hughes 2009","ct":53,"y":-0.39},{"gene":"Mtf1","study":"Hughes 2009","ct":54,"y":-0.82},{"gene":"Mtf1","study":"Hughes 2009","ct":55,"y":-2.24},{"gene":"Mtf1","study":"Hughes 2009","ct":56,"y":0.06},{"gene":"Mtf1","study":"Hughes 2009","ct":57,"y":0.5},{"gene":"Mtf1","study":"Hughes 2009","ct":58,"y":0.61},{"gene":"Mtf1","study":"Hughes 2009","ct":59,"y":-0.57},{"gene":"Mtf1","study":"Hughes 2009","ct":60,"y":0.42},{"gene":"Mtf1","study":"Hughes 2009","ct":61,"y":-0.47},{"gene":"Mtf1","study":"Hughes 2009","ct":62,"y":1.31},{"gene":"Mtf1","study":"Hughes 2009","ct":63,"y":1.27},{"gene":"Mtf1","study":"Hughes 2009","ct":64,"y":0.92},{"gene":"Mtf1","study":"Hughes 2009","ct":65,"y":0.77},
{"gene":"Cln3","study":"Hughes 2012","ct":0,"y":-2.72},{"gene":"Cln3","study":"Hughes 2012","ct":2,"y":1.03},{"gene":"Cln3","study":"Hughes 2012","ct":4,"y":0.15},{"gene":"Cln3","study":"Hughes 2012","ct":6,"y":0.0},{"gene":"Cln3","study":"Hughes 2012","ct":8,"y":0.57},{"gene":"Cln3","study":"Hughes 2012","ct":10,"y":-1.13},{"gene":"Cln3","study":"Hughes 2012","ct":12,"y":-0.36},{"gene":"Cln3","study":"Hughes 2012","ct":14,"y":-0.85},{"gene":"Cln3","study":"Hughes 2012","ct":16,"y":-1.33},{"gene":"Cln3","study":"Hughes 2012","ct":18,"y":-0.66},{"gene":"Cln3","study":"Hughes 2012","ct":20,"y":-0.34},{"gene":"Cln3","study":"Hughes 2012","ct":22,"y":0.39},{"gene":"Cln3","study":"Hughes 2012","ct":24,"y":0.44},{"gene":"Cln3","study":"Hughes 2012","ct":26,"y":1.19},{"gene":"Cln3","study":"Hughes 2012","ct":28,"y":0.99},{"gene":"Cln3","study":"Hughes 2012","ct":30,"y":1.79},{"gene":"Cln3","study":"Hughes 2012","ct":32,"y":-0.01},{"gene":"Cln3","study":"Hughes 2012","ct":34,"y":0.7},{"gene":"Cln3","study":"Hughes 2012","ct":36,"y":-1.11},{"gene":"Cln3","study":"Hughes 2012","ct":38,"y":-0.3},{"gene":"Cln3","study":"Hughes 2012","ct":40,"y":-0.21},{"gene":"Cln3","study":"Hughes 2012","ct":42,"y":0.84},{"gene":"Cln3","study":"Hughes 2012","ct":44,"y":0.71},{"gene":"Cln3","study":"Hughes 2012","ct":46,"y":0.61},
{"gene":"Cln3","study":"Zhang 2014","ct":18,"y":0.5},{"gene":"Cln3","study":"Zhang 2014","ct":20,"y":0.54},{"gene":"Cln3","study":"Zhang 2014","ct":22,"y":0.57},{"gene":"Cln3","study":"Zhang 2014","ct":24,"y":0.05},{"gene":"Cln3","study":"Zhang 2014","ct":26,"y":0.35},{"gene":"Cln3","study":"Zhang 2014","ct":28,"y":0.39},{"gene":"Cln3","study":"Zhang 2014","ct":30,"y":0.12},{"gene":"Cln3","study":"Zhang 2014","ct":32,"y":-0.3},{"gene":"Cln3","study":"Zhang 2014","ct":34,"y":-2.38},{"gene":"Cln3","study":"Zhang 2014","ct":36,"y":-0.43},{"gene":"Cln3","study":"Zhang 2014","ct":38,"y":-2.2},{"gene":"Cln3","study":"Zhang 2014","ct":40,"y":0.06},{"gene":"Cln3","study":"Zhang 2014","ct":42,"y":0.54},{"gene":"Cln3","study":"Zhang 2014","ct":44,"y":0.84},{"gene":"Cln3","study":"Zhang 2014","ct":46,"y":0.84},{"gene":"Cln3","study":"Zhang 2014","ct":48,"y":0.41},{"gene":"Cln3","study":"Zhang 2014","ct":50,"y":-0.36},{"gene":"Cln3","study":"Zhang 2014","ct":52,"y":1.89},{"gene":"Cln3","study":"Zhang 2014","ct":54,"y":1.08},{"gene":"Cln3","study":"Zhang 2014","ct":56,"y":0.12},{"gene":"Cln3","study":"Zhang 2014","ct":58,"y":-1.78},{"gene":"Cln3","study":"Zhang 2014","ct":60,"y":-0.23},{"gene":"Cln3","study":"Zhang 2014","ct":62,"y":-0.75},{"gene":"Cln3","study":"Zhang 2014","ct":64,"y":-0.19},
{"gene":"Cln3","study":"Hughes 2009","ct":18,"y":0.57},{"gene":"Cln3","study":"Hughes 2009","ct":19,"y":1.19},{"gene":"Cln3","study":"Hughes 2009","ct":20,"y":0.9},{"gene":"Cln3","study":"Hughes 2009","ct":21,"y":2.54},{"gene":"Cln3","study":"Hughes 2009","ct":22,"y":0.05},{"gene":"Cln3","study":"Hughes 2009","ct":23,"y":-0.45},{"gene":"Cln3","study":"Hughes 2009","ct":24,"y":-0.98},{"gene":"Cln3","study":"Hughes 2009","ct":25,"y":0.18},{"gene":"Cln3","study":"Hughes 2009","ct":26,"y":-0.98},{"gene":"Cln3","study":"Hughes 2009","ct":27,"y":-0.39},{"gene":"Cln3","study":"Hughes 2009","ct":28,"y":-1.48},{"gene":"Cln3","study":"Hughes 2009","ct":29,"y":0.15},{"gene":"Cln3","study":"Hughes 2009","ct":30,"y":1.12},{"gene":"Cln3","study":"Hughes 2009","ct":31,"y":-1.52},{"gene":"Cln3","study":"Hughes 2009","ct":32,"y":-0.43},{"gene":"Cln3","study":"Hughes 2009","ct":33,"y":-0.1},{"gene":"Cln3","study":"Hughes 2009","ct":34,"y":0.19},{"gene":"Cln3","study":"Hughes 2009","ct":35,"y":0.61},{"gene":"Cln3","study":"Hughes 2009","ct":36,"y":1.16},{"gene":"Cln3","study":"Hughes 2009","ct":37,"y":-0.04},{"gene":"Cln3","study":"Hughes 2009","ct":38,"y":-0.81},{"gene":"Cln3","study":"Hughes 2009","ct":39,"y":0.12},{"gene":"Cln3","study":"Hughes 2009","ct":40,"y":0.32},{"gene":"Cln3","study":"Hughes 2009","ct":41,"y":0.03},{"gene":"Cln3","study":"Hughes 2009","ct":42,"y":1.16},{"gene":"Cln3","study":"Hughes 2009","ct":43,"y":1.83},{"gene":"Cln3","study":"Hughes 2009","ct":44,"y":-0.75},{"gene":"Cln3","study":"Hughes 2009","ct":45,"y":0.61},{"gene":"Cln3","study":"Hughes 2009","ct":46,"y":0.15},{"gene":"Cln3","study":"Hughes 2009","ct":47,"y":-0.58},{"gene":"Cln3","study":"Hughes 2009","ct":48,"y":0.58},{"gene":"Cln3","study":"Hughes 2009","ct":49,"y":-0.62},{"gene":"Cln3","study":"Hughes 2009","ct":50,"y":0.32},{"gene":"Cln3","study":"Hughes 2009","ct":51,"y":1.61},{"gene":"Cln3","study":"Hughes 2009","ct":52,"y":0.09},{"gene":"Cln3","study":"Hughes 2009","ct":53,"y":0.19},{"gene":"Cln3","study":"Hughes 2009","ct":54,"y":1.29},{"gene":"Cln3","study":"Hughes 2009","ct":55,"y":-0.32},{"gene":"Cln3","study":"Hughes 2009","ct":56,"y":1.47},{"gene":"Cln3","study":"Hughes 2009","ct":57,"y":0.24},{"gene":"Cln3","study":"Hughes 2009","ct":58,"y":1.19},{"gene":"Cln3","study":"Hughes 2009","ct":59,"y":-0.06},{"gene":"Cln3","study":"Hughes 2009","ct":60,"y":-1.37},{"gene":"Cln3","study":"Hughes 2009","ct":61,"y":-0.81},{"gene":"Cln3","study":"Hughes 2009","ct":62,"y":-1.0},{"gene":"Cln3","study":"Hughes 2009","ct":63,"y":-1.24},{"gene":"Cln3","study":"Hughes 2009","ct":64,"y":-2.33},{"gene":"Cln3","study":"Hughes 2009","ct":65,"y":-1.0},
{"gene":"Abcd4","study":"Hughes 2012","ct":0,"y":0.39},{"gene":"Abcd4","study":"Hughes 2012","ct":2,"y":0.24},{"gene":"Abcd4","study":"Hughes 2012","ct":4,"y":-1.06},{"gene":"Abcd4","study":"Hughes 2012","ct":6,"y":-0.22},{"gene":"Abcd4","study":"Hughes 2012","ct":8,"y":0.51},{"gene":"Abcd4","study":"Hughes 2012","ct":10,"y":-0.79},{"gene":"Abcd4","study":"Hughes 2012","ct":12,"y":0.51},{"gene":"Abcd4","study":"Hughes 2012","ct":14,"y":1.07},{"gene":"Abcd4","study":"Hughes 2012","ct":16,"y":0.77},{"gene":"Abcd4","study":"Hughes 2012","ct":18,"y":-1.22},{"gene":"Abcd4","study":"Hughes 2012","ct":20,"y":-0.09},{"gene":"Abcd4","study":"Hughes 2012","ct":22,"y":2.89},{"gene":"Abcd4","study":"Hughes 2012","ct":24,"y":-2.05},{"gene":"Abcd4","study":"Hughes 2012","ct":26,"y":-0.7},{"gene":"Abcd4","study":"Hughes 2012","ct":28,"y":-0.98},{"gene":"Abcd4","study":"Hughes 2012","ct":30,"y":-1.0},{"gene":"Abcd4","study":"Hughes 2012","ct":32,"y":-0.27},{"gene":"Abcd4","study":"Hughes 2012","ct":34,"y":0.3},{"gene":"Abcd4","study":"Hughes 2012","ct":36,"y":0.18},{"gene":"Abcd4","study":"Hughes 2012","ct":38,"y":1.13},{"gene":"Abcd4","study":"Hughes 2012","ct":40,"y":0.51},{"gene":"Abcd4","study":"Hughes 2012","ct":42,"y":0.67},{"gene":"Abcd4","study":"Hughes 2012","ct":44,"y":-0.12},{"gene":"Abcd4","study":"Hughes 2012","ct":46,"y":-0.02},
{"gene":"Abcd4","study":"Zhang 2014","ct":18,"y":0.46},{"gene":"Abcd4","study":"Zhang 2014","ct":20,"y":2.01},{"gene":"Abcd4","study":"Zhang 2014","ct":22,"y":1.61},{"gene":"Abcd4","study":"Zhang 2014","ct":24,"y":-0.1},{"gene":"Abcd4","study":"Zhang 2014","ct":26,"y":-0.06},{"gene":"Abcd4","study":"Zhang 2014","ct":28,"y":0.15},{"gene":"Abcd4","study":"Zhang 2014","ct":30,"y":-0.85},{"gene":"Abcd4","study":"Zhang 2014","ct":32,"y":-0.28},{"gene":"Abcd4","study":"Zhang 2014","ct":34,"y":-0.98},{"gene":"Abcd4","study":"Zhang 2014","ct":36,"y":0.22},{"gene":"Abcd4","study":"Zhang 2014","ct":38,"y":-0.06},{"gene":"Abcd4","study":"Zhang 2014","ct":40,"y":0.88},{"gene":"Abcd4","study":"Zhang 2014","ct":42,"y":-0.94},{"gene":"Abcd4","study":"Zhang 2014","ct":44,"y":1.52},{"gene":"Abcd4","study":"Zhang 2014","ct":46,"y":1.2},{"gene":"Abcd4","study":"Zhang 2014","ct":48,"y":0.63},{"gene":"Abcd4","study":"Zhang 2014","ct":50,"y":-0.91},{"gene":"Abcd4","study":"Zhang 2014","ct":52,"y":-1.5},{"gene":"Abcd4","study":"Zhang 2014","ct":54,"y":-0.33},{"gene":"Abcd4","study":"Zhang 2014","ct":56,"y":-1.83},{"gene":"Abcd4","study":"Zhang 2014","ct":58,"y":-1.38},{"gene":"Abcd4","study":"Zhang 2014","ct":60,"y":0.09},{"gene":"Abcd4","study":"Zhang 2014","ct":62,"y":0.37},{"gene":"Abcd4","study":"Zhang 2014","ct":64,"y":0.0},
{"gene":"Abcd4","study":"Hughes 2009","ct":18,"y":0.98},{"gene":"Abcd4","study":"Hughes 2009","ct":19,"y":-0.24},{"gene":"Abcd4","study":"Hughes 2009","ct":20,"y":0.55},{"gene":"Abcd4","study":"Hughes 2009","ct":21,"y":0.63},{"gene":"Abcd4","study":"Hughes 2009","ct":22,"y":2.74},{"gene":"Abcd4","study":"Hughes 2009","ct":23,"y":1.12},{"gene":"Abcd4","study":"Hughes 2009","ct":24,"y":-0.28},{"gene":"Abcd4","study":"Hughes 2009","ct":25,"y":0.15},{"gene":"Abcd4","study":"Hughes 2009","ct":26,"y":2.32},{"gene":"Abcd4","study":"Hughes 2009","ct":27,"y":0.12},{"gene":"Abcd4","study":"Hughes 2009","ct":28,"y":-0.09},{"gene":"Abcd4","study":"Hughes 2009","ct":29,"y":0.46},{"gene":"Abcd4","study":"Hughes 2009","ct":30,"y":-0.49},{"gene":"Abcd4","study":"Hughes 2009","ct":31,"y":1.0},{"gene":"Abcd4","study":"Hughes 2009","ct":32,"y":0.43},{"gene":"Abcd4","study":"Hughes 2009","ct":33,"y":-0.24},{"gene":"Abcd4","study":"Hughes 2009","ct":34,"y":-0.16},{"gene":"Abcd4","study":"Hughes 2009","ct":35,"y":-0.15},{"gene":"Abcd4","study":"Hughes 2009","ct":36,"y":-0.46},{"gene":"Abcd4","study":"Hughes 2009","ct":37,"y":2.48},{"gene":"Abcd4","study":"Hughes 2009","ct":38,"y":0.06},{"gene":"Abcd4","study":"Hughes 2009","ct":39,"y":-0.71},{"gene":"Abcd4","study":"Hughes 2009","ct":40,"y":-0.61},{"gene":"Abcd4","study":"Hughes 2009","ct":41,"y":1.1},{"gene":"Abcd4","study":"Hughes 2009","ct":42,"y":0.27},{"gene":"Abcd4","study":"Hughes 2009","ct":43,"y":-0.33},{"gene":"Abcd4","study":"Hughes 2009","ct":44,"y":0.71},{"gene":"Abcd4","study":"Hughes 2009","ct":45,"y":-0.37},{"gene":"Abcd4","study":"Hughes 2009","ct":46,"y":-1.07},{"gene":"Abcd4","study":"Hughes 2009","ct":47,"y":0.51},{"gene":"Abcd4","study":"Hughes 2009","ct":48,"y":-0.46},{"gene":"Abcd4","study":"Hughes 2009","ct":49,"y":-0.3},{"gene":"Abcd4","study":"Hughes 2009","ct":50,"y":-1.18},{"gene":"Abcd4","study":"Hughes 2009","ct":51,"y":0.82},{"gene":"Abcd4","study":"Hughes 2009","ct":52,"y":-0.88},{"gene":"Abcd4","study":"Hughes 2009","ct":53,"y":-1.12},{"gene":"Abcd4","study":"Hughes 2009","ct":54,"y":-0.18},{"gene":"Abcd4","study":"Hughes 2009","ct":55,"y":0.22},{"gene":"Abcd4","study":"Hughes 2009","ct":56,"y":-0.4},{"gene":"Abcd4","study":"Hughes 2009","ct":57,"y":-0.46},{"gene":"Abcd4","study":"Hughes 2009","ct":58,"y":-1.28},{"gene":"Abcd4","study":"Hughes 2009","ct":59,"y":-0.06},{"gene":"Abcd4","study":"Hughes 2009","ct":60,"y":2.72},{"gene":"Abcd4","study":"Hughes 2009","ct":61,"y":-0.37},{"gene":"Abcd4","study":"Hughes 2009","ct":62,"y":-0.83},{"gene":"Abcd4","study":"Hughes 2009","ct":63,"y":-0.57},{"gene":"Abcd4","study":"Hughes 2009","ct":64,"y":-1.16},{"gene":"Abcd4","study":"Hughes 2009","ct":65,"y":-1.56}
]},
"data": {"name": "expr"},
"resolve": {"scale": {"y": "independent", "color": "shared", "shape": "shared"}, "legend": {"color": "shared", "shape": "shared"}},
"spacing": 0,
"vconcat": [
{
 "title": {"text": "(A)", "fontSize": 26, "fontWeight": "normal", "fontStyle": "normal", "frame": "bounds", "anchor": "start", "offset": 0},
 "spacing": 10,
 "resolve": {"scale": {"y": "independent", "color": "shared", "shape": "shared"}, "legend": {"color": "shared", "shape": "shared"}},
 "hconcat": [
  {"width": 242, "height": 148, "title": "Clock",
   "transform": [{"filter": "datum.gene === 'Clock'"}],
   "encoding": {
    "x": {"field": "ct", "type": "quantitative", "scale": {"domain": [-3.25, 68.25], "nice": false, "zero": false}, "axis": {"title": null, "values": [0,10,20,30,40,50,60], "labelExpr": "datum.value % 20 === 0 ? datum.label : ''", "tickOpacity": {"condition": {"test": "datum.value % 20 !== 0", "value": 0}, "value": 1}, "gridWidth": {"condition": {"test": "datum.value % 20 !== 0", "value": 1}, "value": 1.8}}},
    "y": {"field": "y", "type": "quantitative", "scale": {"domain": [-2.4, 1.79], "nice": false, "zero": false}, "axis": {"title": "Scaled expression", "titlePadding": 6, "format": "d", "values": [-2,-1.5,-1,-0.5,0,0.5,1,1.5], "labelExpr": "datum.value % 1 === 0 ? datum.label : ''", "tickOpacity": {"condition": {"test": "datum.value % 1 !== 0", "value": 0}, "value": 1}, "gridWidth": {"condition": {"test": "datum.value % 1 !== 0", "value": 1}, "value": 1.8}}}
   },
   "layer": [
    {"transform": [{"filter": "datum.study === 'Hughes 2009'"}], "mark": {"type": "line", "strokeWidth": 2, "color": "#F0696B"}, "encoding": {}},
    {"transform": [{"filter": "datum.study === 'Hughes 2012'"}], "mark": {"type": "line", "strokeWidth": 2, "color": "#58B546"}, "encoding": {}},
    {"transform": [{"filter": "datum.study === 'Zhang 2014'"}], "mark": {"type": "line", "strokeWidth": 2, "color": "#8DA0CB"}, "encoding": {}},
    {"transform": [{"filter": "datum.study === 'Hughes 2009'"}], "mark": {"type": "point", "filled": true, "opacity": 1, "size": 12}, "encoding": {"color": {"field": "study", "type": "nominal", "scale": {"domain": ["Hughes 2009", "Hughes 2012", "Zhang 2014"], "range": ["#F0696B", "#58B546", "#8DA0CB"]}, "legend": {"title": "Study", "orient": "none", "legendX": 1105, "legendY": 143}}, "shape": {"field": "study", "type": "nominal", "scale": {"domain": ["Hughes 2009", "Hughes 2012", "Zhang 2014"], "range": ["circle", "triangle-up", "square"]}, "legend": {"title": "Study", "orient": "none", "legendX": 1105, "legendY": 143}}}},
    {"transform": [{"filter": "datum.study === 'Hughes 2012'"}], "mark": {"type": "point", "filled": true, "opacity": 1, "size": 75}, "encoding": {"color": {"field": "study", "type": "nominal", "scale": {"domain": ["Hughes 2009", "Hughes 2012", "Zhang 2014"], "range": ["#F0696B", "#58B546", "#8DA0CB"]}, "legend": {"title": "Study", "orient": "none", "legendX": 1105, "legendY": 143}}, "shape": {"field": "study", "type": "nominal", "scale": {"domain": ["Hughes 2009", "Hughes 2012", "Zhang 2014"], "range": ["circle", "triangle-up", "square"]}, "legend": {"title": "Study", "orient": "none", "legendX": 1105, "legendY": 143}}}},
    {"transform": [{"filter": "datum.study === 'Zhang 2014'"}], "mark": {"type": "point", "filled": true, "opacity": 1, "size": 55}, "encoding": {"color": {"field": "study", "type": "nominal", "scale": {"domain": ["Hughes 2009", "Hughes 2012", "Zhang 2014"], "range": ["#F0696B", "#58B546", "#8DA0CB"]}, "legend": {"title": "Study", "orient": "none", "legendX": 1105, "legendY": 143}}, "shape": {"field": "study", "type": "nominal", "scale": {"domain": ["Hughes 2009", "Hughes 2012", "Zhang 2014"], "range": ["circle", "triangle-up", "square"]}, "legend": {"title": "Study", "orient": "none", "legendX": 1105, "legendY": 143}}}}
   ]},
  {"width": 242, "height": 148, "title": "Cry1",
   "transform": [{"filter": "datum.gene === 'Cry1'"}],
   "encoding": {
    "x": {"field": "ct", "type": "quantitative", "scale": {"domain": [-3.25, 68.25], "nice": false, "zero": false}, "axis": {"title": null, "values": [0,10,20,30,40,50,60], "labelExpr": "datum.value % 20 === 0 ? datum.label : ''", "tickOpacity": {"condition": {"test": "datum.value % 20 !== 0", "value": 0}, "value": 1}, "gridWidth": {"condition": {"test": "datum.value % 20 !== 0", "value": 1}, "value": 1.8}}},
    "y": {"field": "y", "type": "quantitative", "scale": {"domain": [-1.875, 1.965], "nice": false, "zero": false}, "axis": {"title": null, "format": "d", "minExtent": 34, "values": [-1.5,-1,-0.5,0,0.5,1,1.5], "labelExpr": "datum.value % 1 === 0 ? datum.label : ''", "tickOpacity": {"condition": {"test": "datum.value % 1 !== 0", "value": 0}, "value": 1}, "gridWidth": {"condition": {"test": "datum.value % 1 !== 0", "value": 1}, "value": 1.8}}}
   },
   "layer": [
    {"transform": [{"filter": "datum.study === 'Hughes 2009'"}], "mark": {"type": "line", "strokeWidth": 2, "color": "#F0696B"}, "encoding": {}},
    {"transform": [{"filter": "datum.study === 'Hughes 2012'"}], "mark": {"type": "line", "strokeWidth": 2, "color": "#58B546"}, "encoding": {}},
    {"transform": [{"filter": "datum.study === 'Zhang 2014'"}], "mark": {"type": "line", "strokeWidth": 2, "color": "#8DA0CB"}, "encoding": {}},
    {"transform": [{"filter": "datum.study === 'Hughes 2009'"}], "mark": {"type": "point", "filled": true, "opacity": 1, "size": 12}, "encoding": {"color": {"field": "study", "type": "nominal", "scale": {"domain": ["Hughes 2009", "Hughes 2012", "Zhang 2014"], "range": ["#F0696B", "#58B546", "#8DA0CB"]}, "legend": {"title": "Study", "orient": "none", "legendX": 1105, "legendY": 143}}, "shape": {"field": "study", "type": "nominal", "scale": {"domain": ["Hughes 2009", "Hughes 2012", "Zhang 2014"], "range": ["circle", "triangle-up", "square"]}, "legend": {"title": "Study", "orient": "none", "legendX": 1105, "legendY": 143}}}},
    {"transform": [{"filter": "datum.study === 'Hughes 2012'"}], "mark": {"type": "point", "filled": true, "opacity": 1, "size": 75}, "encoding": {"color": {"field": "study", "type": "nominal", "scale": {"domain": ["Hughes 2009", "Hughes 2012", "Zhang 2014"], "range": ["#F0696B", "#58B546", "#8DA0CB"]}, "legend": {"title": "Study", "orient": "none", "legendX": 1105, "legendY": 143}}, "shape": {"field": "study", "type": "nominal", "scale": {"domain": ["Hughes 2009", "Hughes 2012", "Zhang 2014"], "range": ["circle", "triangle-up", "square"]}, "legend": {"title": "Study", "orient": "none", "legendX": 1105, "legendY": 143}}}},
    {"transform": [{"filter": "datum.study === 'Zhang 2014'"}], "mark": {"type": "point", "filled": true, "opacity": 1, "size": 55}, "encoding": {"color": {"field": "study", "type": "nominal", "scale": {"domain": ["Hughes 2009", "Hughes 2012", "Zhang 2014"], "range": ["#F0696B", "#58B546", "#8DA0CB"]}, "legend": {"title": "Study", "orient": "none", "legendX": 1105, "legendY": 143}}, "shape": {"field": "study", "type": "nominal", "scale": {"domain": ["Hughes 2009", "Hughes 2012", "Zhang 2014"], "range": ["circle", "triangle-up", "square"]}, "legend": {"title": "Study", "orient": "none", "legendX": 1105, "legendY": 143}}}}
   ]},
  {"width": 242, "height": 148, "title": "Npas2",
   "transform": [{"filter": "datum.gene === 'Npas2'"}],
   "encoding": {
    "x": {"field": "ct", "type": "quantitative", "scale": {"domain": [-3.25, 68.25], "nice": false, "zero": false}, "axis": {"title": null, "values": [0,10,20,30,40,50,60], "labelExpr": "datum.value % 20 === 0 ? datum.label : ''", "tickOpacity": {"condition": {"test": "datum.value % 20 !== 0", "value": 0}, "value": 1}, "gridWidth": {"condition": {"test": "datum.value % 20 !== 0", "value": 1}, "value": 1.8}}},
    "y": {"field": "y", "type": "quantitative", "scale": {"domain": [-1.29, 3.15], "nice": false, "zero": false}, "axis": {"title": null, "format": "d", "minExtent": 36, "values": [-1,-0.5,0,0.5,1,1.5,2,2.5,3], "labelExpr": "datum.value % 1 === 0 ? datum.label : ''", "tickOpacity": {"condition": {"test": "datum.value % 1 !== 0", "value": 0}, "value": 1}, "gridWidth": {"condition": {"test": "datum.value % 1 !== 0", "value": 1}, "value": 1.8}}}
   },
   "layer": [
    {"transform": [{"filter": "datum.study === 'Hughes 2009'"}], "mark": {"type": "line", "strokeWidth": 2, "color": "#F0696B"}, "encoding": {}},
    {"transform": [{"filter": "datum.study === 'Hughes 2012'"}], "mark": {"type": "line", "strokeWidth": 2, "color": "#58B546"}, "encoding": {}},
    {"transform": [{"filter": "datum.study === 'Zhang 2014'"}], "mark": {"type": "line", "strokeWidth": 2, "color": "#8DA0CB"}, "encoding": {}},
    {"transform": [{"filter": "datum.study === 'Hughes 2009'"}], "mark": {"type": "point", "filled": true, "opacity": 1, "size": 12}, "encoding": {"color": {"field": "study", "type": "nominal", "scale": {"domain": ["Hughes 2009", "Hughes 2012", "Zhang 2014"], "range": ["#F0696B", "#58B546", "#8DA0CB"]}, "legend": {"title": "Study", "orient": "none", "legendX": 1105, "legendY": 143}}, "shape": {"field": "study", "type": "nominal", "scale": {"domain": ["Hughes 2009", "Hughes 2012", "Zhang 2014"], "range": ["circle", "triangle-up", "square"]}, "legend": {"title": "Study", "orient": "none", "legendX": 1105, "legendY": 143}}}},
    {"transform": [{"filter": "datum.study === 'Hughes 2012'"}], "mark": {"type": "point", "filled": true, "opacity": 1, "size": 75}, "encoding": {"color": {"field": "study", "type": "nominal", "scale": {"domain": ["Hughes 2009", "Hughes 2012", "Zhang 2014"], "range": ["#F0696B", "#58B546", "#8DA0CB"]}, "legend": {"title": "Study", "orient": "none", "legendX": 1105, "legendY": 143}}, "shape": {"field": "study", "type": "nominal", "scale": {"domain": ["Hughes 2009", "Hughes 2012", "Zhang 2014"], "range": ["circle", "triangle-up", "square"]}, "legend": {"title": "Study", "orient": "none", "legendX": 1105, "legendY": 143}}}},
    {"transform": [{"filter": "datum.study === 'Zhang 2014'"}], "mark": {"type": "point", "filled": true, "opacity": 1, "size": 55}, "encoding": {"color": {"field": "study", "type": "nominal", "scale": {"domain": ["Hughes 2009", "Hughes 2012", "Zhang 2014"], "range": ["#F0696B", "#58B546", "#8DA0CB"]}, "legend": {"title": "Study", "orient": "none", "legendX": 1105, "legendY": 143}}, "shape": {"field": "study", "type": "nominal", "scale": {"domain": ["Hughes 2009", "Hughes 2012", "Zhang 2014"], "range": ["circle", "triangle-up", "square"]}, "legend": {"title": "Study", "orient": "none", "legendX": 1105, "legendY": 143}}}}
   ]},
  {"width": 242, "height": 148, "title": "Per1",
   "transform": [{"filter": "datum.gene === 'Per1'"}],
   "encoding": {
    "x": {"field": "ct", "type": "quantitative", "scale": {"domain": [-3.25, 68.25], "nice": false, "zero": false}, "axis": {"title": null, "values": [0,10,20,30,40,50,60], "labelExpr": "datum.value % 20 === 0 ? datum.label : ''", "tickOpacity": {"condition": {"test": "datum.value % 20 !== 0", "value": 0}, "value": 1}, "gridWidth": {"condition": {"test": "datum.value % 20 !== 0", "value": 1}, "value": 1.8}}},
    "y": {"field": "y", "type": "quantitative", "scale": {"domain": [-2.02, 2.82], "nice": false, "zero": false}, "axis": {"title": null, "format": "d", "minExtent": 28, "values": [-2,-1.5,-1,-0.5,0,0.5,1,1.5,2,2.5], "labelExpr": "datum.value % 1 === 0 ? datum.label : ''", "tickOpacity": {"condition": {"test": "datum.value % 1 !== 0", "value": 0}, "value": 1}, "gridWidth": {"condition": {"test": "datum.value % 1 !== 0", "value": 1}, "value": 1.8}}}
   },
   "layer": [
    {"transform": [{"filter": "datum.study === 'Hughes 2009'"}], "mark": {"type": "line", "strokeWidth": 2, "color": "#F0696B"}, "encoding": {}},
    {"transform": [{"filter": "datum.study === 'Hughes 2012'"}], "mark": {"type": "line", "strokeWidth": 2, "color": "#58B546"}, "encoding": {}},
    {"transform": [{"filter": "datum.study === 'Zhang 2014'"}], "mark": {"type": "line", "strokeWidth": 2, "color": "#8DA0CB"}, "encoding": {}},
    {"transform": [{"filter": "datum.study === 'Hughes 2009'"}], "mark": {"type": "point", "filled": true, "opacity": 1, "size": 12}, "encoding": {"color": {"field": "study", "type": "nominal", "scale": {"domain": ["Hughes 2009", "Hughes 2012", "Zhang 2014"], "range": ["#F0696B", "#58B546", "#8DA0CB"]}, "legend": {"title": "Study", "orient": "none", "legendX": 1105, "legendY": 143}}, "shape": {"field": "study", "type": "nominal", "scale": {"domain": ["Hughes 2009", "Hughes 2012", "Zhang 2014"], "range": ["circle", "triangle-up", "square"]}, "legend": {"title": "Study", "orient": "none", "legendX": 1105, "legendY": 143}}}},
    {"transform": [{"filter": "datum.study === 'Hughes 2012'"}], "mark": {"type": "point", "filled": true, "opacity": 1, "size": 75}, "encoding": {"color": {"field": "study", "type": "nominal", "scale": {"domain": ["Hughes 2009", "Hughes 2012", "Zhang 2014"], "range": ["#F0696B", "#58B546", "#8DA0CB"]}, "legend": {"title": "Study", "orient": "none", "legendX": 1105, "legendY": 143}}, "shape": {"field": "study", "type": "nominal", "scale": {"domain": ["Hughes 2009", "Hughes 2012", "Zhang 2014"], "range": ["circle", "triangle-up", "square"]}, "legend": {"title": "Study", "orient": "none", "legendX": 1105, "legendY": 143}}}},
    {"transform": [{"filter": "datum.study === 'Zhang 2014'"}], "mark": {"type": "point", "filled": true, "opacity": 1, "size": 55}, "encoding": {"color": {"field": "study", "type": "nominal", "scale": {"domain": ["Hughes 2009", "Hughes 2012", "Zhang 2014"], "range": ["#F0696B", "#58B546", "#8DA0CB"]}, "legend": {"title": "Study", "orient": "none", "legendX": 1105, "legendY": 143}}, "shape": {"field": "study", "type": "nominal", "scale": {"domain": ["Hughes 2009", "Hughes 2012", "Zhang 2014"], "range": ["circle", "triangle-up", "square"]}, "legend": {"title": "Study", "orient": "none", "legendX": 1105, "legendY": 143}}}}
   ]}
 ]
},
{
 "title": {"text": "(B)", "fontSize": 26, "fontWeight": "normal", "fontStyle": "normal", "frame": "bounds", "anchor": "start", "offset": -3},
 "spacing": 10,
 "resolve": {"scale": {"y": "independent", "color": "shared", "shape": "shared"}, "legend": {"color": "shared", "shape": "shared"}},
 "hconcat": [
  {"width": 242, "height": 149, "title": {"text": "Utp6", "offset": 8.5},
   "transform": [{"filter": "datum.gene === 'Utp6'"}],
   "encoding": {
    "x": {"field": "ct", "type": "quantitative", "scale": {"domain": [-3.25, 68.25], "nice": false, "zero": false}, "axis": {"title": "CT", "values": [0,10,20,30,40,50,60], "labelExpr": "datum.value % 20 === 0 ? datum.label : ''", "tickOpacity": {"condition": {"test": "datum.value % 20 !== 0", "value": 0}, "value": 1}, "gridWidth": {"condition": {"test": "datum.value % 20 !== 0", "value": 1}, "value": 1.8}}},
    "y": {"field": "y", "type": "quantitative", "scale": {"domain": [-3.73, 2.81], "nice": false, "zero": false}, "axis": {"title": "Scaled expression", "titlePadding": 6, "format": "d", "values": [-3,-2,-1,0,1,2], "labelExpr": "datum.value % 2 === 0 ? datum.label : ''", "tickOpacity": {"condition": {"test": "datum.value % 2 !== 0", "value": 0}, "value": 1}, "gridWidth": {"condition": {"test": "datum.value % 2 !== 0", "value": 1}, "value": 1.8}}},
    "color": {"field": "study", "type": "nominal", "scale": {"domain": ["Hughes 2009", "Hughes 2012", "Zhang 2014"], "range": ["#F0696B", "#58B546", "#8DA0CB"]}, "legend": {"title": "Study", "orient": "none", "legendX": 1105, "legendY": 143}},
    "shape": {"field": "study", "type": "nominal", "scale": {"domain": ["Hughes 2009", "Hughes 2012", "Zhang 2014"], "range": ["circle", "triangle-up", "square"]}, "legend": {"title": "Study", "orient": "none", "legendX": 1105, "legendY": 143}}
   },
   "layer": [
    {"transform": [{"filter": "datum.study === 'Hughes 2009'"}], "mark": {"type": "point", "filled": true, "opacity": 1, "size": 20}},
    {"transform": [{"filter": "datum.study === 'Hughes 2012'"}], "mark": {"type": "point", "filled": true, "opacity": 1, "size": 60}},
    {"transform": [{"filter": "datum.study === 'Zhang 2014'"}], "mark": {"type": "point", "filled": true, "opacity": 1, "size": 45}}
   ]},
  {"width": 242, "height": 149, "title": {"text": "Mtf1", "offset": 8.5},
   "transform": [{"filter": "datum.gene === 'Mtf1'"}],
   "encoding": {
    "x": {"field": "ct", "type": "quantitative", "scale": {"domain": [-3.25, 68.25], "nice": false, "zero": false}, "axis": {"title": "CT", "values": [0,10,20,30,40,50,60], "labelExpr": "datum.value % 20 === 0 ? datum.label : ''", "tickOpacity": {"condition": {"test": "datum.value % 20 !== 0", "value": 0}, "value": 1}, "gridWidth": {"condition": {"test": "datum.value % 20 !== 0", "value": 1}, "value": 1.8}}},
    "y": {"field": "y", "type": "quantitative", "scale": {"domain": [-2.53, 3.04], "nice": false, "zero": false}, "axis": {"title": null, "format": "d", "minExtent": 34, "values": [-2.5,-2,-1.5,-1,-0.5,0,0.5,1,1.5,2,2.5,3], "labelExpr": "datum.value % 1 === 0 ? datum.label : ''", "tickOpacity": {"condition": {"test": "datum.value % 1 !== 0", "value": 0}, "value": 1}, "gridWidth": {"condition": {"test": "datum.value % 1 !== 0", "value": 1}, "value": 1.8}}},
    "color": {"field": "study", "type": "nominal", "scale": {"domain": ["Hughes 2009", "Hughes 2012", "Zhang 2014"], "range": ["#F0696B", "#58B546", "#8DA0CB"]}, "legend": {"title": "Study", "orient": "none", "legendX": 1105, "legendY": 143}},
    "shape": {"field": "study", "type": "nominal", "scale": {"domain": ["Hughes 2009", "Hughes 2012", "Zhang 2014"], "range": ["circle", "triangle-up", "square"]}, "legend": {"title": "Study", "orient": "none", "legendX": 1105, "legendY": 143}}
   },
   "layer": [
    {"transform": [{"filter": "datum.study === 'Hughes 2009'"}], "mark": {"type": "point", "filled": true, "opacity": 1, "size": 20}},
    {"transform": [{"filter": "datum.study === 'Hughes 2012'"}], "mark": {"type": "point", "filled": true, "opacity": 1, "size": 60}},
    {"transform": [{"filter": "datum.study === 'Zhang 2014'"}], "mark": {"type": "point", "filled": true, "opacity": 1, "size": 45}}
   ]},
  {"width": 242, "height": 149, "title": {"text": "Cln3", "offset": 8.5},
   "transform": [{"filter": "datum.gene === 'Cln3'"}],
   "encoding": {
    "x": {"field": "ct", "type": "quantitative", "scale": {"domain": [-3.25, 68.25], "nice": false, "zero": false}, "axis": {"title": "CT", "values": [0,10,20,30,40,50,60], "labelExpr": "datum.value % 20 === 0 ? datum.label : ''", "tickOpacity": {"condition": {"test": "datum.value % 20 !== 0", "value": 0}, "value": 1}, "gridWidth": {"condition": {"test": "datum.value % 20 !== 0", "value": 1}, "value": 1.8}}},
    "y": {"field": "y", "type": "quantitative", "scale": {"domain": [-3.02, 2.8], "nice": false, "zero": false}, "axis": {"title": null, "format": "d", "minExtent": 36, "values": [-3,-2.5,-2,-1.5,-1,-0.5,0,0.5,1,1.5,2,2.5], "labelExpr": "datum.value % 1 === 0 ? datum.label : ''", "tickOpacity": {"condition": {"test": "datum.value % 1 !== 0", "value": 0}, "value": 1}, "gridWidth": {"condition": {"test": "datum.value % 1 !== 0", "value": 1}, "value": 1.8}}},
    "color": {"field": "study", "type": "nominal", "scale": {"domain": ["Hughes 2009", "Hughes 2012", "Zhang 2014"], "range": ["#F0696B", "#58B546", "#8DA0CB"]}, "legend": {"title": "Study", "orient": "none", "legendX": 1105, "legendY": 143}},
    "shape": {"field": "study", "type": "nominal", "scale": {"domain": ["Hughes 2009", "Hughes 2012", "Zhang 2014"], "range": ["circle", "triangle-up", "square"]}, "legend": {"title": "Study", "orient": "none", "legendX": 1105, "legendY": 143}}
   },
   "layer": [
    {"transform": [{"filter": "datum.study === 'Hughes 2009'"}], "mark": {"type": "point", "filled": true, "opacity": 1, "size": 36}},
    {"transform": [{"filter": "datum.study === 'Hughes 2012'"}], "mark": {"type": "point", "filled": true, "opacity": 1, "size": 60}},
    {"transform": [{"filter": "datum.study === 'Zhang 2014'"}], "mark": {"type": "point", "filled": true, "opacity": 1, "size": 45}}
   ]},
  {"width": 242, "height": 149, "title": {"text": "Abcd4", "offset": 8.5},
   "transform": [{"filter": "datum.gene === 'Abcd4'"}],
   "encoding": {
    "x": {"field": "ct", "type": "quantitative", "scale": {"domain": [-3.25, 68.25], "nice": false, "zero": false}, "axis": {"title": "CT", "values": [0,10,20,30,40,50,60], "labelExpr": "datum.value % 20 === 0 ? datum.label : ''", "tickOpacity": {"condition": {"test": "datum.value % 20 !== 0", "value": 0}, "value": 1}, "gridWidth": {"condition": {"test": "datum.value % 20 !== 0", "value": 1}, "value": 1.8}}},
    "y": {"field": "y", "type": "quantitative", "scale": {"domain": [-2.3, 3.14], "nice": false, "zero": false}, "axis": {"title": null, "format": "d", "minExtent": 28, "values": [-2,-1.5,-1,-0.5,0,0.5,1,1.5,2,2.5,3], "labelExpr": "datum.value % 1 === 0 ? datum.label : ''", "tickOpacity": {"condition": {"test": "datum.value % 1 !== 0", "value": 0}, "value": 1}, "gridWidth": {"condition": {"test": "datum.value % 1 !== 0", "value": 1}, "value": 1.8}}},
    "color": {"field": "study", "type": "nominal", "scale": {"domain": ["Hughes 2009", "Hughes 2012", "Zhang 2014"], "range": ["#F0696B", "#58B546", "#8DA0CB"]}, "legend": {"title": "Study", "orient": "none", "legendX": 1105, "legendY": 143}},
    "shape": {"field": "study", "type": "nominal", "scale": {"domain": ["Hughes 2009", "Hughes 2012", "Zhang 2014"], "range": ["circle", "triangle-up", "square"]}, "legend": {"title": "Study", "orient": "none", "legendX": 1105, "legendY": 143}}
   },
   "layer": [
    {"transform": [{"filter": "datum.study === 'Hughes 2009'"}], "mark": {"type": "point", "filled": true, "opacity": 1, "size": 36}},
    {"transform": [{"filter": "datum.study === 'Hughes 2012'"}], "mark": {"type": "point", "filled": true, "opacity": 1, "size": 60}},
    {"transform": [{"filter": "datum.study === 'Zhang 2014'"}], "mark": {"type": "point", "filled": true, "opacity": 1, "size": 45}}
   ]}
 ]
}
]
}
